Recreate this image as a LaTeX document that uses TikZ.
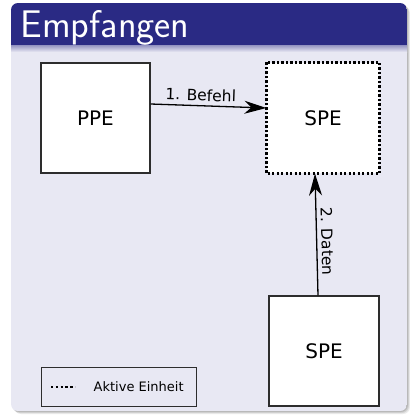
\documentclass[tikz,border=0pt]{standalone}
\usepackage{fontspec}
\setmainfont{DejaVu Sans}
\usetikzlibrary{arrows.meta}
\definecolor{titlebg}{RGB}{42,42,132}
\definecolor{bodybg}{RGB}{232,232,243}
\definecolor{boxline}{RGB}{45,45,45}
\begin{document}
\begin{tikzpicture}[x=1pt,y=-1pt,
  unitbox/.style={draw=boxline, line width=1.3pt, fill=white, minimum width=#1, minimum height=110pt, inner sep=0pt, font=\fontsize{20}{24}\selectfont},
  activebox/.style={draw=black, line width=2.6pt, dash pattern=on 2.3pt off 2.2pt},
  flow/.style={-{Stealth[length=22pt,width=13pt,inset=7pt]}, line width=1.3pt, draw=black},
  flowlabel/.style={font=\fontsize{15.5}{18}\selectfont, inner sep=4pt},
  legendbox/.style={draw=boxline, line width=1pt, minimum width=155pt, minimum height=39pt, inner sep=0pt},
  legendtext/.style={font=\fontsize{13}{15}\selectfont, inner sep=0pt, anchor=west}
]
\useasboundingbox (0,0) rectangle (410,416);
% shadow
\foreach \o/\op in {1/0.12,2/0.10,3/0.08}{
  \fill[black, opacity=\op, rounded corners=7pt] (11+\o,3+\o) rectangle (407+\o,411+\o);
}
% block
\begin{scope}
  \clip[rounded corners=7pt] (11,3) rectangle (407,411);
  \fill[bodybg] (11,3) rectangle (407,411);
  \fill[titlebg] (11,3) rectangle (407,45);
  \shade[top color=titlebg!45!bodybg, bottom color=bodybg] (11,45) rectangle (407,52);
\end{scope}
\node[anchor=base west, text=white, inner sep=0pt, font=\sffamily\fontsize{38.5}{44}\selectfont] (title) at (20.5,37.5) {Empfangen};

% units
\node[unitbox=109pt] (PPE) at (95.5,118) {PPE};
\node[unitbox=112pt, draw=none] (SPEa) at (323,118) {SPE};
\node[unitbox=110pt] (SPEb) at (324,351) {SPE};
\draw[activebox] (SPEa.north west) rectangle (SPEa.south east);

% connectors
\draw[flow] ([yshift=14pt]PPE.east) -- node[flowlabel, pos=0.43, above, sloped] {1. Befehl} ([yshift=10pt]SPEa.west);
\draw[flow] ([xshift=-6pt]SPEb.north) -- node[flowlabel, pos=0.44, above, sloped] {2. Daten} ([xshift=-8pt]SPEa.south);

% legend
\node[legendbox] (legend) at (118.5,386.5) {};
\coordinate (dotA) at (51,387);
\coordinate (dotB) at (75,387);
\draw[line width=2.4pt, dash pattern=on 2.4pt off 2.4pt] (dotA) -- (dotB);
\node[legendtext] (legtext) at (93.5,386.5) {Aktive Einheit};
\end{tikzpicture}
\end{document}
